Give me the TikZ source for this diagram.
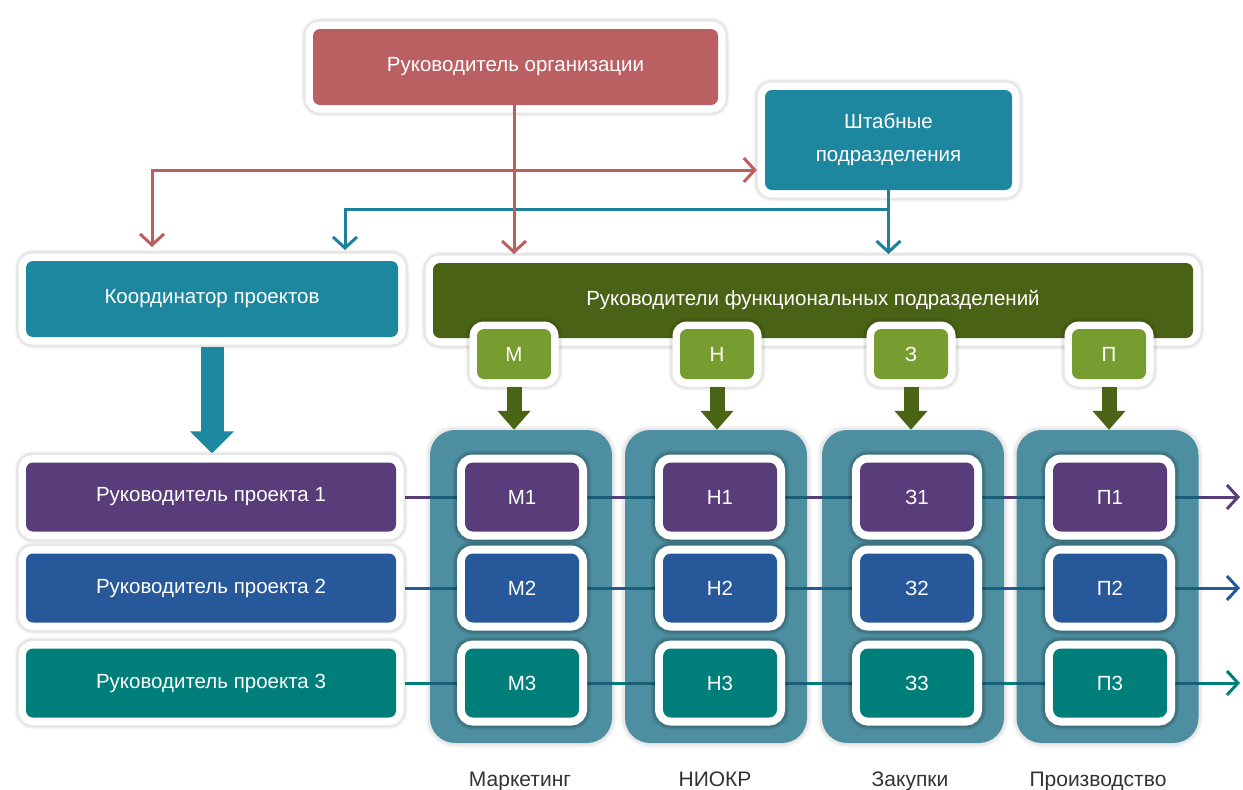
\documentclass[tikz,border=0pt]{standalone}
\usepackage{fontspec}
\setmainfont{Liberation Sans}
\usetikzlibrary{arrows.meta,calc}
\definecolor{cRed}{HTML}{BA6062}
\definecolor{cRedLine}{HTML}{BE5F5F}
\definecolor{cTeal}{HTML}{1E87A0}
\definecolor{cTealLine}{HTML}{1E809B}
\definecolor{cDkGreen}{HTML}{4A6216}
\definecolor{cGreen}{HTML}{779D30}
\definecolor{cArrGreen}{HTML}{4A6416}
\definecolor{cCol}{HTML}{4D8FA0}
\definecolor{cPurple}{HTML}{593C7A}
\definecolor{cBlue}{HTML}{275899}
\definecolor{cRowTeal}{HTML}{007F7A}
\definecolor{cInLine}{HTML}{1A5F78}
\definecolor{cLabel}{HTML}{333333}
\begin{document}
\begin{tikzpicture}[x=1pt,y=-1pt,
  font=\fontsize{20.5}{24}\selectfont,
  card/.style={rounded corners=7pt, inner sep=0pt, text=white, align=center,
    preaction={draw=black, draw opacity=0.04, line width=23pt},
    preaction={draw=black, draw opacity=0.06, line width=20pt},
    preaction={draw=white, line width=15pt}},
  cell/.style={rounded corners=8pt, inner sep=0pt, text=white,
    minimum width=114pt, minimum height=69pt,
    preaction={draw=black, draw opacity=0.10, line width=24pt},
    preaction={draw=black, draw opacity=0.10, line width=20pt},
    preaction={draw=white, line width=16pt}},
  smallbox/.style={card, fill=cGreen, minimum width=74pt, minimum height=50pt},
  pmbox/.style={card, minimum width=370pt, minimum height=69pt},
  column/.style={rounded corners=25pt, fill=cCol, inner sep=0pt,
    minimum width=182pt, minimum height=313pt,
    preaction={draw=black, draw opacity=0.04, line width=9pt},
    preaction={draw=black, draw opacity=0.05, line width=5pt}},
  barb/.style={-{Straight Barb[length=11pt,width=24pt]}},
  redarr/.style={draw=cRedLine, line width=3pt, barb},
  tealarr/.style={draw=cTealLine, line width=3pt, barb},
  garrow/.style={draw=cArrGreen, line width=15pt, -{Triangle[length=19pt,width=32pt]}},
  bigarrow/.style={draw=cTeal, line width=23pt, -{Triangle[length=22pt,width=43pt]}},
  rowline/.style={line width=3pt, -{Straight Barb[length=11pt,width=24pt]}},
  inline/.style={draw=cInLine, line width=3pt},
  collabel/.style={text=cLabel, anchor=base, font=\fontsize{21}{24}\selectfont}]
\useasboundingbox (0,0) rectangle (1243,790);
\fill[white] (0,0) rectangle (1243,790);

% ---------- top level ----------
\node[card, fill=cRed, minimum width=405pt, minimum height=76pt] (org) at (515.5,67) {Руководитель организации};
\node[card, fill=cTeal, minimum width=247pt, minimum height=100pt, font=\fontsize{20.5}{33}\selectfont] (staff) at (888.5,140) {Штабные\\подразделения};

% connectors from top
\coordinate (rl) at (152,170);
\coordinate (tl) at (345,209);
\draw[redarr, {Straight Barb[length=11pt,width=24pt]}-{Straight Barb[length=11pt,width=24pt]}, shorten <=14pt, shorten >=8pt]
  (rl |- 0,261) -- (rl) -- (rl -| staff.west);
\draw[tealarr, shorten >=11pt] (staff.south |- tl) -- (tl) -- (tl |- 0,261);
\draw[tealarr, shorten >=9pt] (staff.south) -- (staff.south |- 0,263);
\draw[redarr, shorten >=9pt] (514,105) -- (514,263);

% ---------- second level ----------
\node[card, fill=cTeal, minimum width=372pt, minimum height=76pt] (coord) at (212,299) {Координатор проектов};
\node[card, fill=cDkGreen, minimum width=760pt, minimum height=75pt] (func) at (813,300.5) {\raisebox{2pt}{Руководители функциональных подразделений}};

% ---------- columns ----------
\node[column] (colM) at (521,586.5) {};
\node[column] (colN) at (716,586.5) {};
\node[column] (colZ) at (913,586.5) {};
\node[column] (colP) at (1107.5,586.5) {};

% ---------- small boxes ----------
\node[smallbox] (sM) at (514,354) {М};
\node[smallbox] (sN) at (717,354) {Н};
\node[smallbox] (sZ) at (911,354) {З};
\node[smallbox] (sP) at (1109,354) {П};
\foreach \s/\c in {sM/colM, sN/colN, sZ/colZ, sP/colP}{
  \draw[garrow, shorten <=8pt] (\s.south) -- (\s.south |- \c.north);
}

% ---------- project managers ----------
\node[pmbox, fill=cPurple] (pm1) at (211,497) {Руководитель проекта 1};
\node[pmbox, fill=cBlue] (pm2) at (211,588) {Руководитель проекта 2};
\node[pmbox, fill=cRowTeal] (pm3) at (211,683) {Руководитель проекта 3};
\draw[bigarrow, shorten <=10pt, shorten >=9pt] (coord.south) -- (coord.south |- pm1.north);

% ---------- row lines ----------
\coordinate (e1) at (1240,497);
\coordinate (e2) at (1240,588);
\coordinate (e3) at (1240,683);
\draw[rowline, draw=cPurple, shorten <=9pt] (pm1.east) -- (e1);
\draw[rowline, draw=cBlue, shorten <=9pt] (pm2.east) -- (e2);
\draw[rowline, draw=cRowTeal, shorten <=9pt] (pm3.east) -- (e3);
\foreach \c in {colM, colN, colZ, colP}{
  \foreach \p in {pm1, pm2, pm3}{
    \draw[inline] (\c.west |- \p.east) -- (\c.east |- \p.east);
  }
}

% ---------- cells ----------
\foreach \c/\x/\L in {M/522/М, N/720/Н, Z/917/З, P/1110/П}{
  \node[cell, fill=cPurple] (c\c1) at (\x,497) {\L1};
  \node[cell, fill=cBlue] (c\c2) at (\x,588) {\L2};
  \node[cell, fill=cRowTeal] (c\c3) at (\x,683) {\L3};
}

% ---------- column labels ----------
\node[collabel] (lM) at (520,786) {Маркетинг};
\node[collabel] (lN) at (715,786) {НИОКР};
\node[collabel] (lZ) at (910,786) {Закупки};
\node[collabel] (lP) at (1098,786) {Производство};
\end{tikzpicture}
\end{document}
